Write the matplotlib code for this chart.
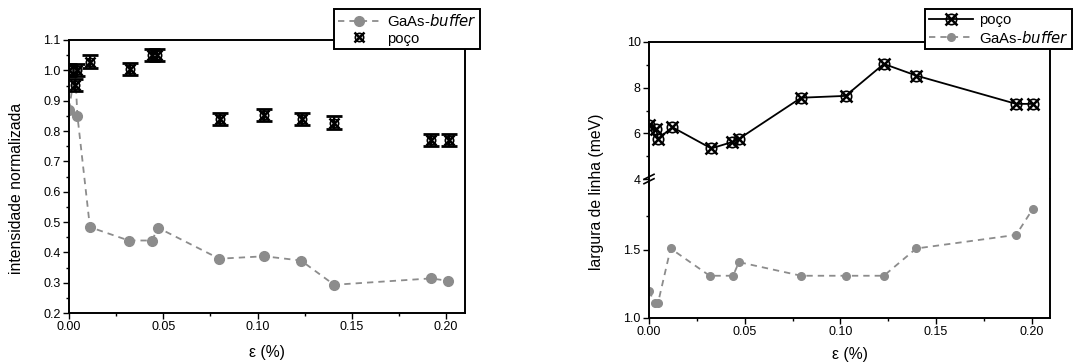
import matplotlib
matplotlib.use("Agg")
import matplotlib.pyplot as plt
from matplotlib.lines import Line2D
from matplotlib.ticker import MultipleLocator, FixedLocator, FormatStrFormatter

plt.rcParams['font.family'] = ['Liberation Sans', 'DejaVu Sans']

# ---------------- data: left panel (normalized intensity) ----------------
poco_x_left = [0, 0.0032, 0.0045, 0.0111, 0.0322, 0.0438, 0.0467, 0.0800,
               0.1036, 0.1233, 0.1407, 0.1922, 0.2014]
poco_y_left = [1.000, 0.952, 1.000, 1.029, 1.004, 1.051, 1.051, 0.840,
               0.853, 0.840, 0.828, 0.771, 0.771]
poco_err_left = [0.02] * len(poco_x_left)

gaas_x_left = [0, 0.0032, 0.0045, 0.0111, 0.0317, 0.0440, 0.0472, 0.0797,
               0.1036, 0.1230, 0.1406, 0.1919, 0.2012]
gaas_y_left = [0.870, 1.000, 0.848, 0.483, 0.439, 0.439, 0.481, 0.379,
               0.387, 0.373, 0.293, 0.314, 0.306]

# ---------------- data: right panel (linewidth, meV) ----------------
poco_x_right = [0, 0.0038, 0.0047, 0.0122, 0.0325, 0.0435, 0.0470, 0.0795,
                0.1027, 0.1227, 0.1396, 0.1918, 0.2005]
poco_y_right = [6.38, 6.20, 5.76, 6.27, 5.34, 5.62, 5.76, 7.56,
                7.64, 9.04, 8.53, 7.29, 7.29]

gaas_x_right = [0, 0.0030, 0.0047, 0.0113, 0.0317, 0.0439, 0.0470, 0.0795,
                0.1027, 0.1227, 0.1396, 0.1918, 0.2005]
gaas_y_right = [1.20, 1.11, 1.11, 1.51, 1.31, 1.31, 1.41, 1.31,
                1.31, 1.31, 1.51, 1.61, 1.80]

x_ticks = [0.00, 0.05, 0.10, 0.15, 0.20]
left_y_ticks = [0.2, 0.3, 0.4, 0.5, 0.6, 0.7, 0.8, 0.9, 1.0, 1.1]
upper_y_ticks = [4, 6, 8, 10]
lower_y_ticks = [1.0, 1.5]

GRAY = '#8c8c8c'
DASH = (0, (3.5, 2.8))
TICK_FS = 9
LABEL_FS = 11.3
LEG_FS = 10.7
SPINE_LW = 1.4
W, H = 1075, 364

fig = plt.figure(figsize=(10.75, 3.64), dpi=100)


def style_axes(ax):
    for s in ax.spines.values():
        s.set_linewidth(SPINE_LW)
    ax.tick_params(which='major', direction='out', length=4, width=1.0,
                   labelsize=TICK_FS, pad=2)
    ax.tick_params(which='minor', direction='out', length=2.5, width=1.0)


# ================= left panel =================
axL = fig.add_axes([69 / W, 1 - 313 / H, 396 / W, 273 / H])
style_axes(axL)
axL.plot(gaas_x_left, gaas_y_left, color=GRAY, ls=DASH, lw=1.3,
         marker='o', ms=7, mfc=GRAY, mec=GRAY, zorder=2)
axL.errorbar(poco_x_left, poco_y_left, yerr=poco_err_left, fmt='none',
             ecolor='black', elinewidth=1.6, capsize=5.5, capthick=2.0, zorder=3)
axL.plot(poco_x_left, poco_y_left, ls='none', marker='o', ms=6, mfc='none',
         mec='black', mew=1.2, zorder=4)
axL.plot(poco_x_left, poco_y_left, ls='none', marker='x', ms=6.5, mec='black',
         mew=1.8, zorder=4)
axL.set_xlim(0, 0.21)
axL.set_ylim(0.2, 1.1)
axL.xaxis.set_major_locator(FixedLocator(x_ticks))
axL.xaxis.set_minor_locator(MultipleLocator(0.025))
axL.yaxis.set_major_locator(FixedLocator(left_y_ticks))
axL.yaxis.set_minor_locator(MultipleLocator(0.05))
axL.xaxis.set_major_formatter(FormatStrFormatter('%.2f'))
axL.yaxis.set_major_formatter(FormatStrFormatter('%.1f'))
fig.text((69 + 465) / 2 / W, 1 - 353 / H, 'ε (%)', fontsize=LABEL_FS,
         ha='center', va='center')
fig.text(17 / W, 1 - 188 / H, 'intensidade normalizada', rotation=90,
         fontsize=LABEL_FS, ha='center', va='center')

hL_gaas = Line2D([], [], color=GRAY, ls=DASH, lw=1.3, marker='o',
                 ms=7, mfc=GRAY, mec=GRAY)
hL_poco = (Line2D([], [], ls='none', marker='o', ms=6, mfc='none', mec='black', mew=1.2),
           Line2D([], [], ls='none', marker='x', ms=6.5, mec='black', mew=1.8))
legL = fig.legend([hL_gaas, hL_poco], ['GaAs-$\\it{buffer}$', 'poço'],
                  loc='upper left', bbox_to_anchor=(334 / W, 1 - 9 / H),
                  fontsize=LEG_FS, frameon=True, fancybox=False, framealpha=1,
                  edgecolor='black', borderpad=0.25, handlelength=2.8,
                  handletextpad=0.5, labelspacing=0.2, borderaxespad=0)
legL.get_frame().set_linewidth(SPINE_LW)

# ================= right panel (broken y axis) =================
r_left, r_right = 649, 1050
r_top, r_break, r_bottom = 42, 179, 318
axU = fig.add_axes([r_left / W, 1 - r_break / H, (r_right - r_left) / W,
                    (r_break - r_top) / H])
axD = fig.add_axes([r_left / W, 1 - r_bottom / H, (r_right - r_left) / W,
                    (r_bottom - r_break) / H], sharex=axU)
for ax in (axU, axD):
    style_axes(ax)
axU.spines['bottom'].set_visible(False)
axD.spines['top'].set_visible(False)
axU.tick_params(axis='x', which='both', bottom=False, labelbottom=False)

axU.plot(poco_x_right, poco_y_right, color='black', lw=1.3, zorder=3)
axU.plot(poco_x_right, poco_y_right, ls='none', marker='o', ms=7.5, mfc='none',
         mec='black', mew=1.2, zorder=4)
axU.plot(poco_x_right, poco_y_right, ls='none', marker='x', ms=8, mec='black',
         mew=1.8, zorder=4)
axD.plot(gaas_x_right, gaas_y_right, color=GRAY, ls=DASH, lw=1.3,
         marker='o', ms=5.5, mfc=GRAY, mec=GRAY, zorder=2)

axU.set_xlim(0, 0.2095)
axU.set_ylim(4, 10)
axD.set_ylim(1.0, 2.02)
axU.yaxis.set_major_locator(FixedLocator(upper_y_ticks))
axU.yaxis.set_minor_locator(FixedLocator([5, 7, 9]))
axD.yaxis.set_major_locator(FixedLocator(lower_y_ticks))
axD.yaxis.set_minor_locator(FixedLocator([1.75]))
axD.xaxis.set_major_locator(FixedLocator(x_ticks))
axD.xaxis.set_minor_locator(MultipleLocator(0.025))
axD.xaxis.set_major_formatter(FormatStrFormatter('%.2f'))
axD.yaxis.set_major_formatter(FormatStrFormatter('%.1f'))
axU.yaxis.set_major_formatter(FormatStrFormatter('%d'))
fig.text((r_left + r_right) / 2 / W, 1 - 354 / H, 'ε (%)', fontsize=LABEL_FS,
         ha='center', va='center')
fig.text(597 / W, 1 - 192 / H, 'largura de linha (meV)', rotation=90,
         fontsize=LABEL_FS, ha='center', va='center')

# break marks on the left spine
bx = r_left / W
by = 1 - r_break / H
dx, dy = 5 / W, 2.5 / H
for off in (-2.2 / H, 2.2 / H):
    fig.add_artist(Line2D([bx - dx, bx + dx], [by + off - dy, by + off + dy],
                          color='black', lw=1.2, transform=fig.transFigure))

hR_poco = (Line2D([], [], color='black', lw=1.3),
           Line2D([], [], ls='none', marker='o', ms=7.5, mfc='none', mec='black', mew=1.2),
           Line2D([], [], ls='none', marker='x', ms=8, mec='black', mew=1.8))
hR_gaas = Line2D([], [], color=GRAY, ls=DASH, lw=1.3, marker='o',
                 ms=5.5, mfc=GRAY, mec=GRAY)
legR = fig.legend([hR_poco, hR_gaas], ['poço', 'GaAs-$\\it{buffer}$'],
                  loc='upper left', bbox_to_anchor=(925 / W, 1 - 9 / H),
                  fontsize=LEG_FS, frameon=True, fancybox=False, framealpha=1,
                  edgecolor='black', borderpad=0.25, handlelength=3.0,
                  handletextpad=0.4, labelspacing=0.2, borderaxespad=0)
legR.get_frame().set_linewidth(SPINE_LW)

fig.savefig('out.png', dpi=100)
